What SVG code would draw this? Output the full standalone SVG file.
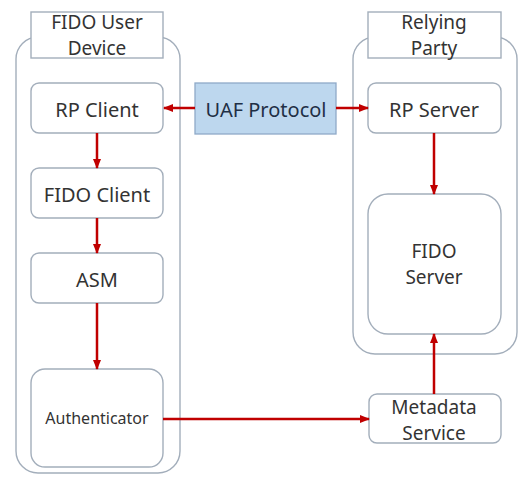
<svg xmlns="http://www.w3.org/2000/svg" width="519" height="484" viewBox="0 0 519 484">
<style>
.cont{fill:#fff;stroke:#a3aebb;stroke-width:1.4}
.box{fill:#fff;stroke:#a3aebb;stroke-width:1.4}
.lbl{fill:#fff;stroke:#a3aebb;stroke-width:1.4}
.uaf{fill:#bdd7ee;stroke:#8faac8;stroke-width:1.3}
text{font-family:"Noto Sans","Open Sans",sans-serif;font-size:20px;fill:#333;text-anchor:middle}
.two{font-size:19px}
.sm{font-size:16px}
.dk{fill:#1f2f45}
.c{stroke:#c00000;stroke-width:2.5;fill:none;marker-end:url(#ah)}
</style>
<defs>
<marker id="ah" viewBox="0 0 10 10" refX="9" refY="5" markerWidth="4" markerHeight="4" orient="auto" markerUnits="strokeWidth">
<path d="M0,1 L10,5 L0,9 z" fill="#c00000"/>
</marker>
</defs>
<rect width="519" height="484" fill="#fff"/>
<g id="user-device">
<rect class="cont" x="16" y="37" width="164" height="436" rx="22"/>
<rect class="lbl" x="31" y="12" width="132" height="46"/>
<text class="two" x="97" y="29">FIDO User</text>
<text class="two" x="97" y="55">Device</text>
</g>
<g id="relying-party">
<rect class="cont" x="353" y="37" width="164" height="317" rx="22"/>
<rect class="lbl" x="368" y="12" width="133" height="46"/>
<text class="two" x="434" y="29">Relying</text>
<text class="two" x="434" y="55">Party</text>
</g>
<g id="rp-client"><rect class="box" x="31" y="83" width="132" height="50" rx="8"/><text x="97" y="117">RP Client</text></g>
<g id="fido-client"><rect class="box" x="31" y="168" width="132" height="50" rx="8"/><text x="97" y="202">FIDO Client</text></g>
<g id="asm"><rect class="box" x="31" y="253" width="132" height="50" rx="8"/><text x="97" y="287">ASM</text></g>
<g id="authenticator"><rect class="box" x="31" y="369" width="132" height="98" rx="14"/><text class="sm" x="97" y="424">Authenticator</text></g>
<g id="uaf-protocol"><rect class="uaf" x="195" y="83" width="141" height="51"/><text class="dk" x="266" y="117">UAF Protocol</text></g>
<g id="rp-server"><rect class="box" x="368" y="83" width="133" height="50" rx="8"/><text x="434" y="117">RP Server</text></g>
<g id="fido-server"><rect class="box" x="368" y="194" width="133" height="140" rx="20"/><text class="two" x="434" y="258">FIDO</text><text class="two" x="434" y="284">Server</text></g>
<g id="metadata-service"><rect class="box" x="369" y="394" width="132" height="49" rx="8"/><text class="two" x="434" y="414">Metadata</text><text class="two" x="434" y="440">Service</text></g>
<g id="connectors">
<line class="c" x1="195" y1="108" x2="164" y2="108"/>
<line class="c" x1="336" y1="108" x2="368" y2="108"/>
<line class="c" x1="97" y1="133" x2="97" y2="168"/>
<line class="c" x1="97" y1="218" x2="97" y2="253"/>
<line class="c" x1="97" y1="303" x2="97" y2="369"/>
<line class="c" x1="434" y1="133" x2="434" y2="194"/>
<line class="c" x1="434" y1="394" x2="434" y2="334"/>
<line class="c" x1="163" y1="419" x2="369" y2="419"/>
</g>
</svg>
